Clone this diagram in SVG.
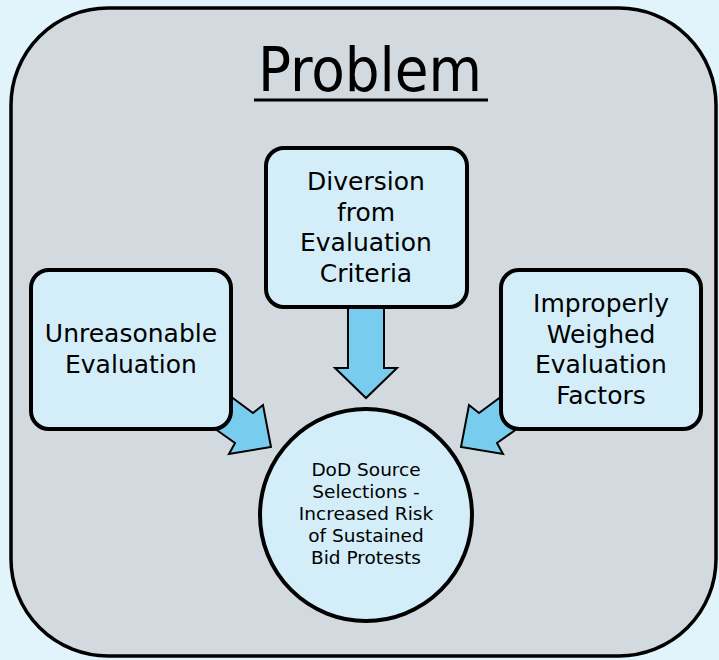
<svg xmlns="http://www.w3.org/2000/svg" width="719" height="660" viewBox="0 0 719 660">
  <style>
    .box { fill: #D3EEF9; stroke: #000; stroke-width: 4; }
    .arrow { fill: #78CDEF; stroke: #000; stroke-width: 2; stroke-linejoin: miter; }
    .t { font-family: "DejaVu Sans", "Liberation Sans", sans-serif; font-size: 25px; fill: #000; text-anchor: middle; }
    .c { font-family: "DejaVu Sans", "Liberation Sans", sans-serif; font-size: 18.5px; fill: #000; text-anchor: middle; }
    .title { font-family: "DejaVu Sans Condensed", "DejaVu Sans", sans-serif; font-stretch: condensed; font-size: 61px; fill: #000; text-anchor: middle; }
  </style>
  <rect x="0" y="0" width="719" height="660" fill="#E1F4FB"/>
  <g id="frame">
    <rect x="11" y="8" width="705" height="648" rx="97" ry="97" fill="#D2D9DF" stroke="#000" stroke-width="3.5"/>
    <text class="title" x="370" y="91">Problem</text>
    <line x1="254" y1="100" x2="488" y2="100" stroke="#000" stroke-width="3"/>
  </g>
  <g id="connectors">
    <polygon class="arrow" points="348,300 384,300 384,368 397,368 366,398 335,368 348,368"/>
    <polygon class="arrow" points="222,390 253,413 263,405 271,447 229,454 235,443 204,421"/>
    <polygon class="arrow" points="510,390 479,413 469,405 461,447 503,454 497,443 528,421"/>
  </g>
  <g id="node-diversion">
    <rect class="box" x="266" y="148" width="201" height="159" rx="18" ry="18"/>
    <text class="t" x="366" y="190">Diversion</text>
    <text class="t" x="366" y="221">from</text>
    <text class="t" x="366" y="251">Evaluation</text>
    <text class="t" x="366" y="282">Criteria</text>
  </g>
  <g id="node-unreasonable">
    <rect class="box" x="31" y="270" width="200" height="159" rx="18" ry="18"/>
    <text class="t" x="131" y="342">Unreasonable</text>
    <text class="t" x="131" y="373">Evaluation</text>
  </g>
  <g id="node-improperly">
    <rect class="box" x="501" y="270" width="200" height="159" rx="18" ry="18"/>
    <text class="t" x="601" y="312">Improperly</text>
    <text class="t" x="601" y="343">Weighed</text>
    <text class="t" x="601" y="373">Evaluation</text>
    <text class="t" x="601" y="404">Factors</text>
  </g>
  <g id="node-dod">
    <circle class="box" cx="366" cy="515" r="106"/>
    <text class="c" x="366" y="476">DoD Source</text>
    <text class="c" x="366" y="498">Selections -</text>
    <text class="c" x="366" y="520">Increased Risk</text>
    <text class="c" x="366" y="542">of Sustained</text>
    <text class="c" x="366" y="564">Bid Protests</text>
  </g>
</svg>
